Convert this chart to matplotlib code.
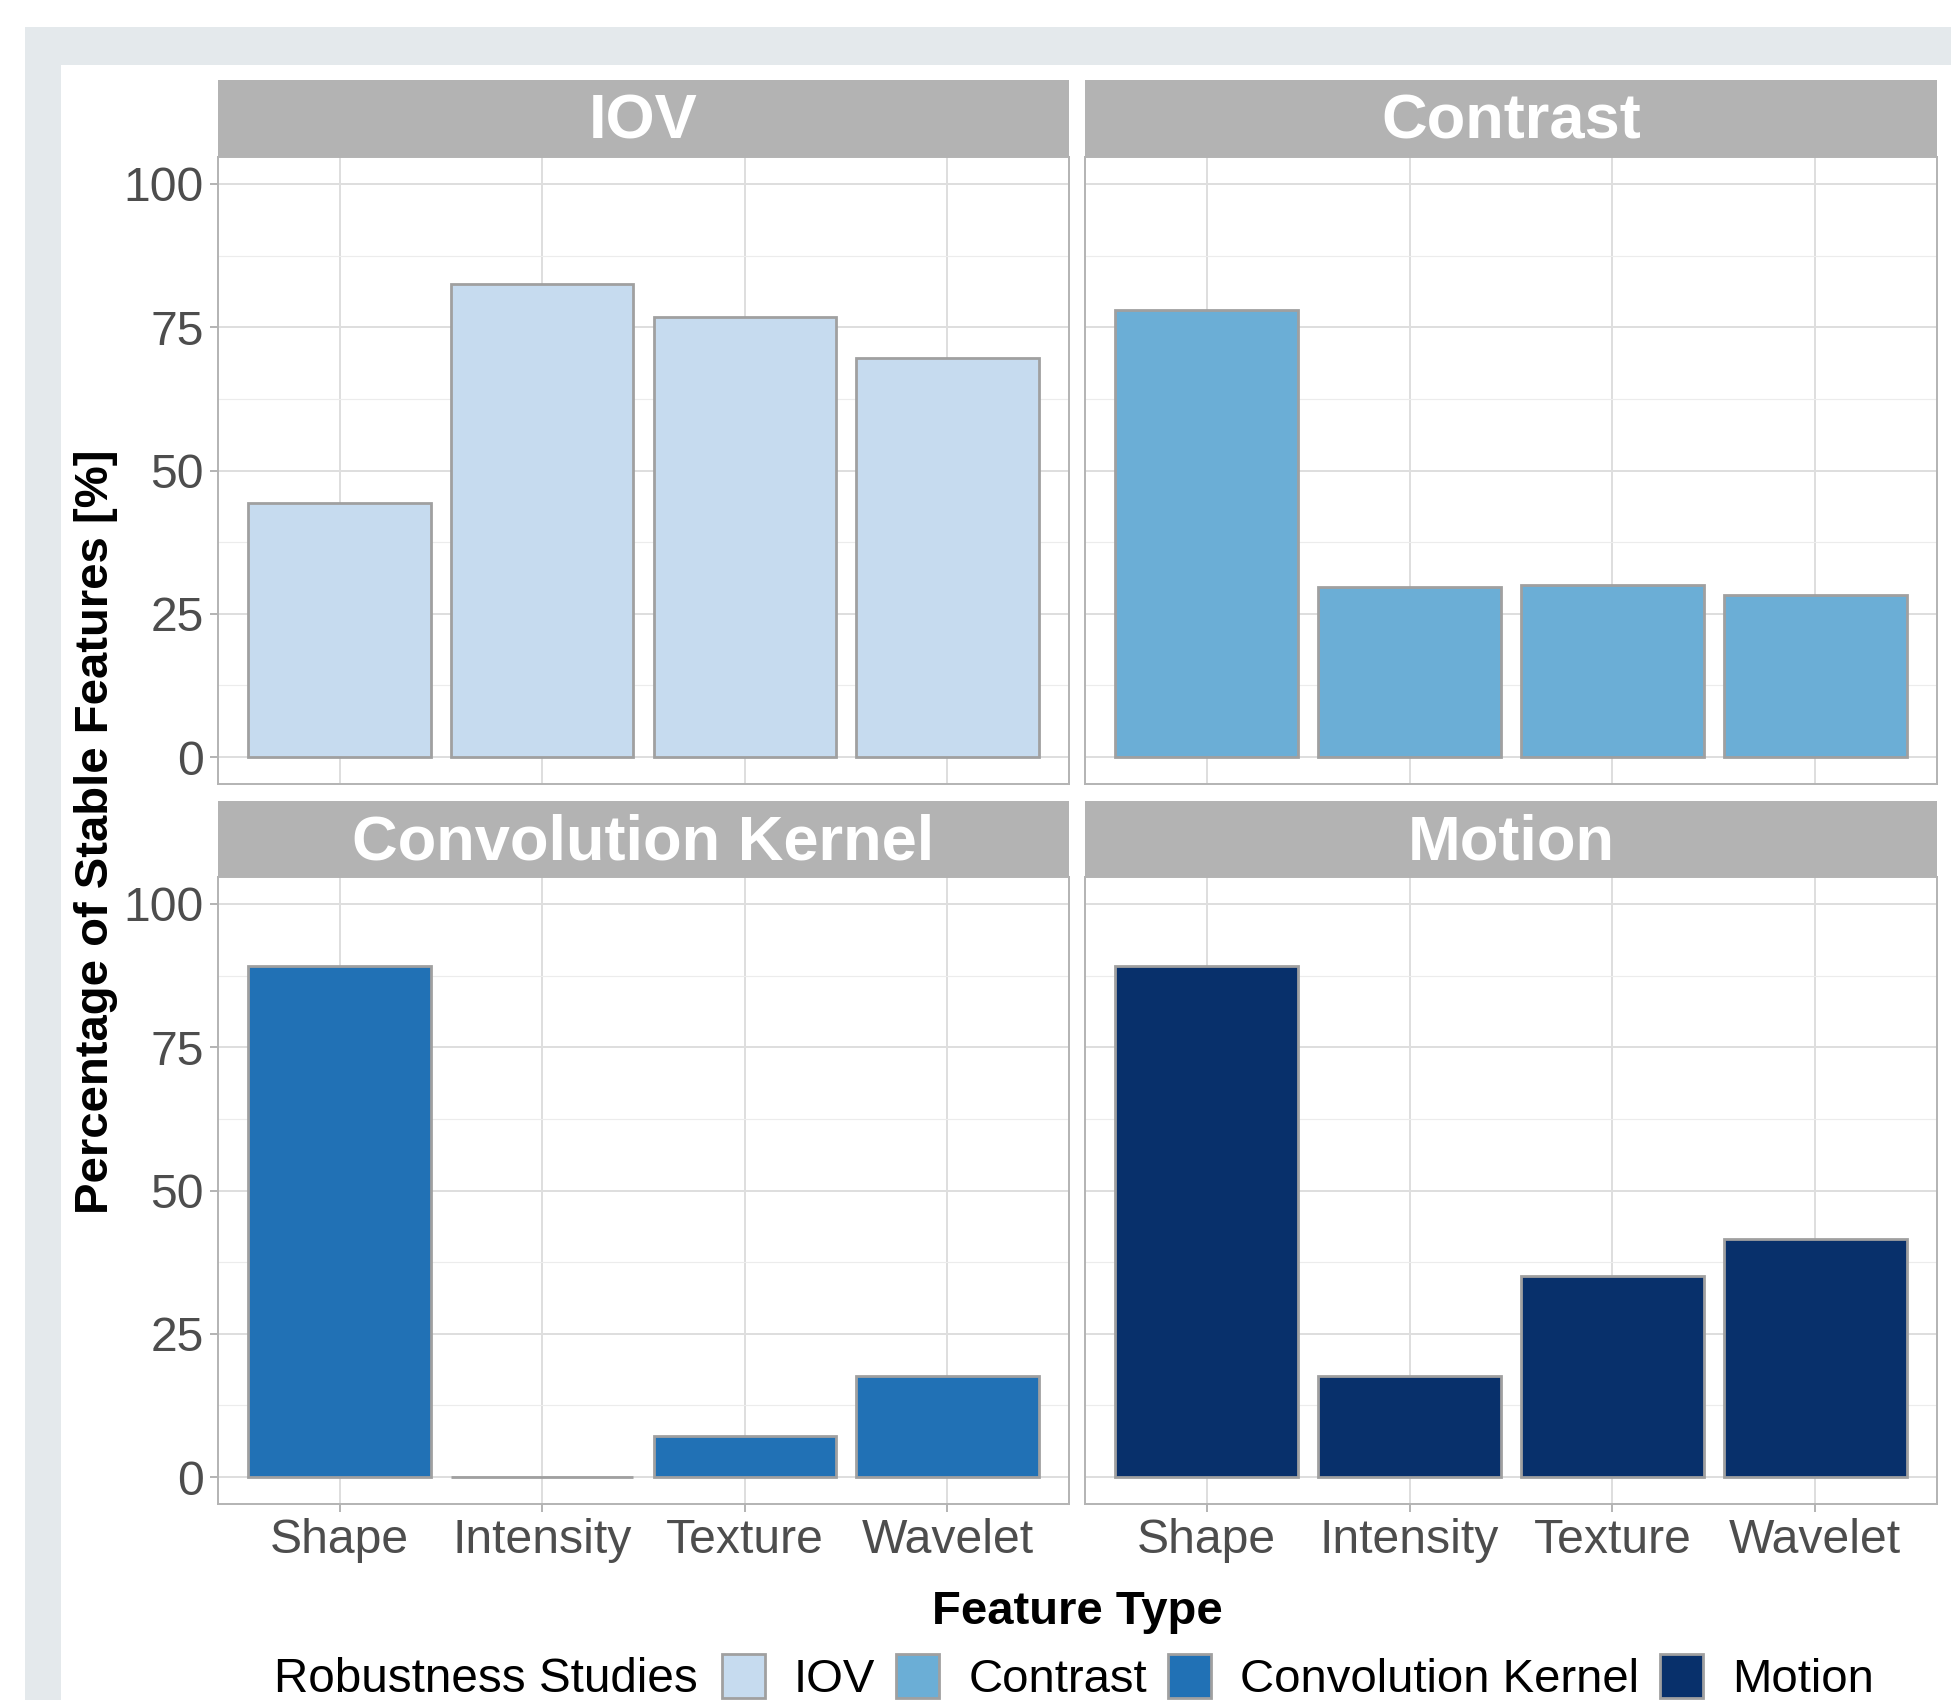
import matplotlib
matplotlib.use("Agg")
import matplotlib.pyplot as plt
from matplotlib.patches import Rectangle, Patch
import numpy as np

plt.rcParams['font.family'] = ['Liberation Sans', 'DejaVu Sans']

# ---------------- data ----------------
categories = ["Shape", "Intensity", "Texture", "Wavelet"]
studies = ["IOV", "Contrast", "Convolution Kernel", "Motion"]
iov_values = [44.4, 82.6, 76.7, 69.7]
contrast_values = [78.0, 29.6, 30.1, 28.3]
kernel_values = [89.1, 0.0, 7.2, 17.6]
motion_values = [89.1, 17.6, 35.1, 41.6]
study_colors = ["#c6dbef", "#6baed6", "#2171b5", "#08306b"]
y_ticks = [0, 25, 50, 75, 100]
y_minor = [12.5, 37.5, 62.5, 87.5]
values = [iov_values, contrast_values, kernel_values, motion_values]

W, H = 1951, 1700
fig = plt.figure(figsize=(W / 100, H / 100), dpi=100)

def fx(px):
    return px / W

def fy(py):
    return 1 - py / H

# background frame
fig.patches.append(Rectangle((fx(25), 0), 1, fy(27), transform=fig.transFigure,
                             facecolor="#e4e9ec", edgecolor="none", zorder=-20))
fig.patches.append(Rectangle((fx(61), 0), 1, fy(65), transform=fig.transFigure,
                             facecolor="white", edgecolor="none", zorder=-10))

cols = [(218, 1069), (1085, 1937)]
rows = [(80, 157, 784), (801, 877, 1504)]  # strip top, panel top, panel bottom

grey70 = "#b3b3b3"
for i, study in enumerate(studies):
    r, c = divmod(i, 2)
    x0, x1 = cols[c]
    st, pt, pb = rows[r]
    ax = fig.add_axes([fx(x0), fy(pb), fx(x1) - fx(x0), fy(pt) - fy(pb)])
    ax.set_zorder(1)
    ax.set_facecolor("white")
    x = np.arange(1, len(categories) + 1)
    ax.bar(x, values[i], width=0.9, color=study_colors[i], edgecolor="#a0a0a0",
           linewidth=2.0, zorder=3)
    ax.set_xlim(0.4, 4.6)
    ax.set_ylim(-4.7, 104.7)
    ax.set_yticks(y_ticks)
    ax.set_yticks(y_minor, minor=True)
    ax.set_xticks(x)
    ax.grid(which="major", color="#dedede", linewidth=1.4, zorder=0)
    ax.grid(which="minor", axis="y", color="#ececec", linewidth=0.8, zorder=0)
    for s in ax.spines.values():
        s.set_color(grey70)
        s.set_linewidth(1.4)
    ax.tick_params(which="minor", length=0)
    ax.tick_params(which="major", length=6, width=1.4, color=grey70,
                   labelsize=34.7, labelcolor="#4d4d4d", pad=4)
    if c == 0:
        ax.set_yticklabels([str(v) for v in y_ticks])
    else:
        ax.tick_params(axis="y", length=0, labelleft=False)
    if r == 1:
        ax.set_xticklabels(categories)
    else:
        ax.tick_params(axis="x", length=0, labelbottom=False)
    # strip
    sax = fig.add_axes([fx(x0), fy(pt), fx(x1) - fx(x0), fy(st) - fy(pt)])
    sax.set_zorder(1)
    sax.set_facecolor(grey70)
    sax.set_xticks([])
    sax.set_yticks([])
    for s in sax.spines.values():
        s.set_visible(False)
    sax.text(0.5, 0.45, study, transform=sax.transAxes, ha="center", va="center",
             color="white", fontsize=45.5, fontweight="bold")

# axis titles
fig.text(fx(96), fy(832), "Percentage of Stable Features [%]", rotation=90,
         ha="center", va="center", fontsize=34, fontweight="bold", color="black")
fig.text(fx(1077), fy(1612), "Feature Type", ha="center", va="center",
         fontsize=34, fontweight="bold", color="black")

# legend
fig.text(fx(274), fy(1679), "Robustness Studies", ha="left", va="center",
         fontsize=34.3, color="black")
handles = [Patch(facecolor=col, edgecolor="#a0a0a0", linewidth=2.0) for col in study_colors]
fig.legend(handles, studies, loc="center left", bbox_to_anchor=(fx(722), fy(1678)),
           ncol=4, frameon=False, fontsize=34, handlelength=0.9, handleheight=1.05,
           handletextpad=0.62, columnspacing=0.45, borderpad=0, borderaxespad=0)

fig.savefig("out.png", dpi=100)
